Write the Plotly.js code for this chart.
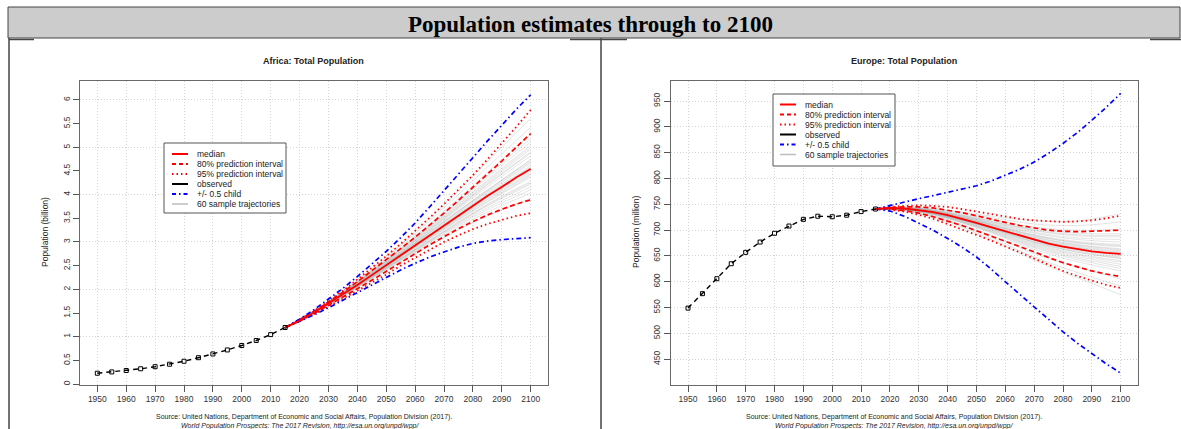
<!DOCTYPE html>
<html><head><meta charset="utf-8">
<script src="https://cdn.plot.ly/plotly-3.0.1.min.js"></script>
<style>html,body{margin:0;padding:0;background:#fff}#chart{width:1181px;height:429px}</style>
</head><body><div id="chart"></div>
<script>
// ---------------- DATA ----------------
const mainTitle = 'Population estimates through to 2100';
const afrTitle = 'Africa: Total Population';
const eurTitle = 'Europe: Total Population';
const afrYTitle = 'Population (billion)';
const eurYTitle = 'Population (million)';
const sourceLine1 = 'Source: United Nations, Department of Economic and Social Affairs, Population Division (2017).';
const sourceLine2 = 'World Population Prospects: The 2017 Revision, http://esa.un.org/unpd/wpp/';
const legendLabels = ['median', '80% prediction interval', '95% prediction interval', 'observed', '+/- 0.5 child', '60 sample trajectories'];

const xTicks = [1950,1960,1970,1980,1990,2000,2010,2020,2030,2040,2050,2060,2070,2080,2090,2100];
const afrYTicks = [0,0.5,1,1.5,2,2.5,3,3.5,4,4.5,5,5.5,6];
const eurYTicks = [450,500,550,600,650,700,750,800,850,900,950];

const obsYears = [1950,1955,1960,1965,1970,1975,1980,1985,1990,1995,2000,2005,2010,2015];
const afrObs = [0.228,0.256,0.285,0.322,0.366,0.418,0.481,0.556,0.635,0.720,0.814,0.920,1.044,1.194];
const eurObs = [549,577,606,635,657,677,694,708,721,727,726,729,736,741];

const projYears = [2015,2020,2025,2030,2035,2040,2045,2050,2055,2060,2065,2070,2075,2080,2085,2090,2095,2100];
const afrMedian    = [1.19,1.34,1.51,1.70,1.89,2.09,2.30,2.51,2.72,2.92,3.13,3.35,3.56,3.77,3.97,4.16,4.36,4.54];
const afr80High    = [1.19,1.35,1.53,1.73,1.94,2.16,2.39,2.62,2.86,3.10,3.35,3.61,3.88,4.15,4.43,4.71,5.00,5.29];
const afr80Low     = [1.19,1.33,1.49,1.66,1.83,2.01,2.19,2.38,2.57,2.76,2.94,3.11,3.28,3.43,3.57,3.69,3.80,3.89];
const afr95High    = [1.19,1.36,1.54,1.75,1.97,2.21,2.45,2.70,2.96,3.23,3.51,3.80,4.10,4.41,4.74,5.08,5.43,5.79];
const afr95Low     = [1.19,1.33,1.48,1.64,1.80,1.97,2.14,2.31,2.50,2.67,2.84,3.00,3.14,3.27,3.38,3.47,3.55,3.61];
const afrChildHigh = [1.19,1.37,1.57,1.79,2.02,2.27,2.53,2.80,3.09,3.40,3.74,4.08,4.43,4.78,5.13,5.47,5.80,6.11];
const afrChildLow  = [1.19,1.32,1.46,1.61,1.77,1.93,2.09,2.25,2.41,2.55,2.68,2.79,2.89,2.97,3.02,3.05,3.07,3.09];

const eurMedian    = [741,743,742,739,735,729,722,714,706,698,689,681,674,668,663,659,656,654];
const eur80High    = [741,744,745,745,743,739,734,728,721,715,709,704,700,698,697,698,699,700];
const eur80Low     = [741,741,738,733,726,718,709,699,689,679,668,658,647,637,629,621,615,610];
const eur95High    = [741,745,747,748,747,745,741,736,731,726,722,719,717,716,717,719,723,728];
const eur95Low     = [741,740,736,730,722,712,702,691,680,669,657,645,633,621,611,602,594,588];
const eurChildHigh = [741,748,755,761,767,773,779,786,795,806,818,832,849,868,889,913,938,965];
const eurChildLow  = [741,737,727,714,700,684,667,648,625,600,576,551,527,503,481,461,441,423];

const trajYears = [2015,2030,2050,2070,2085,2100];
const afrTraj = [
 [1.19,1.72,2.58,3.52,4.25,4.96],[1.19,1.68,2.45,3.21,3.76,4.22],[1.19,1.70,2.52,3.38,4.02,4.61],
 [1.19,1.73,2.62,3.61,4.40,5.18],[1.19,1.69,2.48,3.28,3.86,4.40],[1.19,1.71,2.54,3.44,4.10,4.72],
 [1.19,1.67,2.42,3.14,3.63,4.03],[1.19,1.74,2.66,3.72,4.58,5.42],[1.19,1.70,2.50,3.33,3.94,4.49],
 [1.19,1.71,2.56,3.47,4.16,4.82],[1.19,1.68,2.46,3.24,3.80,4.28],[1.19,1.72,2.60,3.56,4.31,5.04],
 [1.19,1.69,2.49,3.31,3.91,4.46],[1.19,1.66,2.40,3.09,3.55,3.92],[1.19,1.73,2.63,3.65,4.47,5.27],
 [1.19,1.70,2.53,3.40,4.05,4.66],[1.19,1.71,2.55,3.49,4.20,4.88],[1.19,1.68,2.44,3.19,3.72,4.16],
 [1.19,1.75,2.69,3.79,4.70,5.61],[1.19,1.70,2.51,3.36,3.99,4.57],[1.19,1.69,2.47,3.27,3.84,4.37],
 [1.19,1.72,2.59,3.54,4.28,5.00],[1.19,1.71,2.53,3.42,4.07,4.69],[1.19,1.67,2.43,3.17,3.68,4.10],
 [1.19,1.70,2.52,3.37,4.00,4.58],[1.19,1.73,2.61,3.59,4.36,5.11],[1.19,1.69,2.49,3.30,3.89,4.43],
 [1.19,1.71,2.57,3.50,4.22,4.90],[1.19,1.68,2.45,3.22,3.78,4.25],[1.19,1.70,2.54,3.43,4.09,4.74]
];
const eurTraj = [
 [741,740,718,689,675,668],[741,737,709,672,652,638],[741,739,715,684,669,660],
 [741,742,724,702,694,693],[741,738,711,676,657,645],[741,740,717,687,672,664],
 [741,736,705,663,639,621],[741,741,721,696,685,682],[741,739,713,680,662,651],
 [741,740,719,691,678,672],[741,737,708,670,649,634],[741,742,726,706,700,702],
 [741,738,712,678,660,648],[741,735,701,655,628,606],[741,741,722,699,689,687],
 [741,739,714,682,666,656],[741,740,716,686,671,662],[741,736,706,666,643,626],
 [741,743,729,712,709,716],[741,738,710,674,654,641],[741,739,715,683,667,658],
 [741,741,720,694,682,677],[741,737,707,668,646,630],[741,734,698,648,618,592],
 [741,740,718,690,676,670],[741,738,712,677,658,646],[741,742,723,700,691,690],
 [741,733,695,642,608,575],[741,739,713,681,664,653],[741,744,731,718,718,732]
];

// ---------------- STYLE / HELPERS ----------------
const W = 1181, H = 429;
const px = x => x / W;
const py = y => 1 - y / H;
const FONT = 'Liberation Sans, Arial, Helvetica, sans-serif';
const RED = '#ff0000', BLUE = '#0000ff';
const DASH80 = '5px,3px', DOT95 = '1.5px,3px', DASHCHILD = '5px,3px,1.5px,3px';
const GRID = '#d4d4d4', GRIDDASH = '1px,2px';

function lt(x, y, xa, ya, color, width, dash, extra) {
  return Object.assign({type:'scatter', mode:'lines', x:x, y:y, xaxis:xa, yaxis:ya,
    line:{color:color, width:width, dash:dash||'solid'}, hoverinfo:'skip', showlegend:false}, extra || {});
}

function panelTraces(xa, ya, obs, med, h80, l80, h95, l95, ch, cl, traj) {
  const t = [];
  traj.forEach(v => t.push(lt(trajYears, v, xa, ya, '', 0, '', {line:{color:'rgba(150,150,150,0.33)', width:0.8, shape:'spline', smoothing:1}})));
  t.push(lt(projYears, h95, xa, ya, RED, 1.8, DOT95));
  t.push(lt(projYears, l95, xa, ya, RED, 1.8, DOT95));
  t.push(lt(projYears, h80, xa, ya, RED, 1.7, DASH80));
  t.push(lt(projYears, l80, xa, ya, RED, 1.7, DASH80));
  t.push(lt(projYears, ch, xa, ya, BLUE, 1.7, DASHCHILD));
  t.push(lt(projYears, cl, xa, ya, BLUE, 1.7, DASHCHILD));
  t.push(lt(projYears, med, xa, ya, RED, 1.8, 'solid'));
  t.push({type:'scatter', mode:'lines+markers', x:obsYears, y:obs, xaxis:xa, yaxis:ya,
    line:{color:'#000', width:1.4, dash:'5px,4px'},
    marker:{symbol:'square-open', size:4, color:'#000', line:{width:1, color:'#000'}},
    hoverinfo:'skip', showlegend:false});
  return t;
}

const data = [].concat(
  panelTraces('x','y', afrObs, afrMedian, afr80High, afr80Low, afr95High, afr95Low, afrChildHigh, afrChildLow, afrTraj),
  panelTraces('x2','y2', eurObs, eurMedian, eur80High, eur80Low, eur95High, eur95Low, eurChildHigh, eurChildLow, eurTraj),
  [{type:'scatter', mode:'lines', x:[], y:[], xaxis:'x', yaxis:'y3', hoverinfo:'skip', showlegend:false}]
);

const axBase = {showline:true, mirror:true, linecolor:'#6a6a6a', linewidth:1, ticks:'outside', ticklen:6,
  tickcolor:'#555', tickwidth:1, tickfont:{family:FONT, size:8.5, color:'#333'}, zeroline:false,
  gridcolor:GRID, griddash:GRIDDASH, gridwidth:1, fixedrange:true};

// legend builder (shapes + text)
const legendStyles = [
  {color:RED, width:2, dash:'solid'},
  {color:RED, width:2, dash:'4px,3px'},
  {color:RED, width:2, dash:'1.5px,3px'},
  {color:'#000', width:2, dash:'solid'},
  {color:BLUE, width:2, dash:'4px,3px,1.5px,3px'},
  {color:'#bdbdbd', width:1.5, dash:'solid'}
];
const shapes = [];
const annotations = [];
function addLegend(bx0, by0, bx1, by1, sx0, sx1, tx, row0) {
  shapes.push({type:'rect', xref:'paper', yref:'paper', x0:px(bx0), x1:px(bx1), y0:py(by0), y1:py(by1),
    line:{color:'#555', width:1}, fillcolor:'#ffffff', layer:'above'});
  legendLabels.forEach((lab, i) => {
    const yy = row0 + 10 * i;
    shapes.push({type:'line', xref:'paper', yref:'paper', x0:px(sx0), x1:px(sx1), y0:py(yy), y1:py(yy),
      line:legendStyles[i], layer:'above'});
    annotations.push({xref:'paper', yref:'paper', x:px(tx), y:py(yy), xanchor:'left', yanchor:'middle',
      text:lab, showarrow:false, font:{family:FONT, size:8.5, color:'#222'}});
  });
}
addLegend(164, 143, 286, 213, 172, 188, 195, 154);
addLegend(773, 94, 895, 166, 780, 796, 803, 104.5);

// frame / title bar
shapes.push({type:'rect', xref:'paper', yref:'paper', x0:px(8), x1:px(1180), y0:py(7), y1:py(38),
  fillcolor:'#cccccc', line:{color:'#444', width:1}, layer:'below'});
[[9,38,9,429],[601,38,601,429]].forEach(s => shapes.push({type:'line', xref:'paper', yref:'paper',
  x0:px(s[0]), x1:px(s[2]), y0:py(s[1]), y1:py(s[3]), line:{color:'#444', width:1.5}}));
[[9,34],[570,601],[601,627],[1150,1181]].forEach(s => shapes.push({type:'line', xref:'paper', yref:'paper',
  x0:px(s[0]), x1:px(s[1]), y0:py(39.5), y1:py(39.5), line:{color:'#444', width:1.5}}));

// texts
function txt(x, y, text, size, extra) {
  annotations.push(Object.assign({xref:'paper', yref:'paper', x:px(x), y:py(y), xanchor:'center', yanchor:'middle',
    text:text, showarrow:false, font:{family:FONT, size:size, color:'#222'}}, extra || {}));
}
txt(313, 61, '<b>' + afrTitle + '</b>', 9);
txt(904, 61, '<b>' + eurTitle + '</b>', 9);
txt(45, 232, afrYTitle, 8.5, {textangle:-90});
txt(636, 232, eurYTitle, 8.5, {textangle:-90});
txt(304, 417, sourceLine1, 7);
txt(300, 425.5, '<i>' + sourceLine2 + '</i>', 7);
txt(894, 417, sourceLine1, 7);
txt(894, 425.5, '<i>' + sourceLine2 + '</i>', 7);

const layout = {
  width:W, height:H, margin:{l:0, r:0, t:0, b:0}, paper_bgcolor:'#fff', plot_bgcolor:'#fff', showlegend:false,
  title:{text:'<b>' + mainTitle + '</b>', font:{family:'Liberation Serif, Times New Roman, serif', size:23, color:'#000'},
    x:0.5, xanchor:'center', y:py(23.5), yanchor:'middle', xref:'paper', yref:'paper'},
  xaxis: Object.assign({}, axBase, {domain:[px(80), px(548)], range:[1944, 2106], tickmode:'array', tickvals:xTicks, showgrid:true, anchor:'y'}),
  yaxis: Object.assign({}, axBase, {domain:[py(384.5), py(81)], range:[-0.01, 6.40], tickmode:'array', tickvals:afrYTicks, showgrid:false, tickangle:-90, anchor:'x'}),
  yaxis3: {overlaying:'y', anchor:'x', side:'left', range:[-0.01, 6.40], tickmode:'linear', tick0:0, dtick:1, showgrid:true,
    gridcolor:GRID, griddash:GRIDDASH, gridwidth:1, showticklabels:false, ticks:'', showline:false, zeroline:false, fixedrange:true},
  xaxis2: Object.assign({}, axBase, {domain:[px(670.7), px(1138)], range:[1944, 2106], tickmode:'array', tickvals:xTicks, showgrid:true, anchor:'y2'}),
  yaxis2: Object.assign({}, axBase, {domain:[py(384.5), py(81)], range:[401, 989], tickmode:'array', tickvals:eurYTicks, showgrid:true, tickangle:-90, anchor:'x2'}),
  shapes: shapes,
  annotations: annotations
};

Plotly.newPlot('chart', data, layout, {staticPlot:true, displayModeBar:false});
</script>
</body></html>
